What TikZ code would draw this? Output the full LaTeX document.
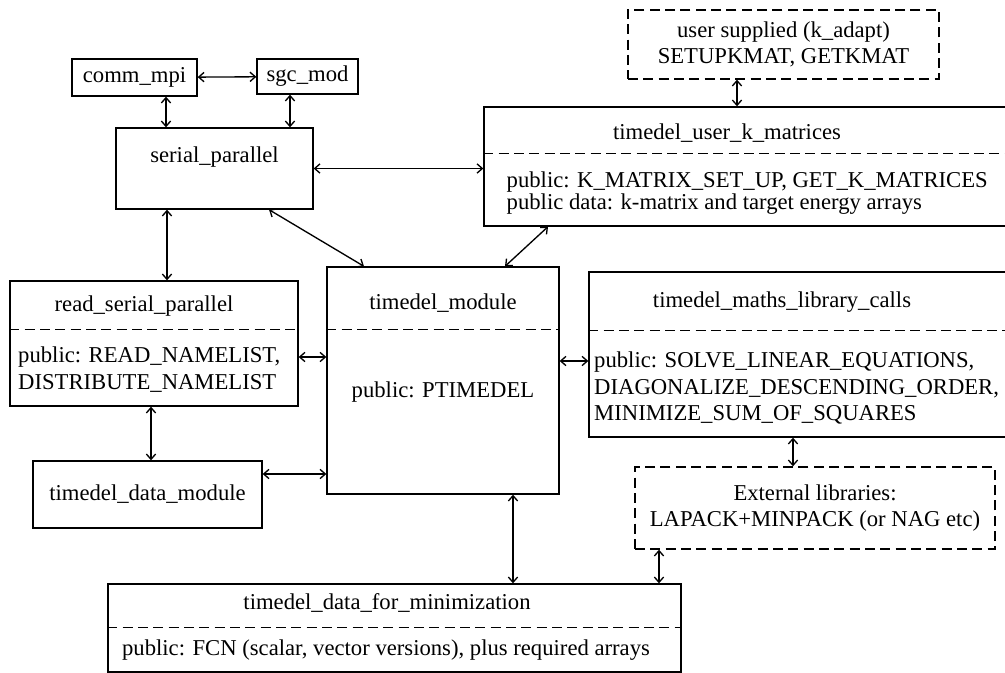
\documentclass[tikz,border=0pt]{standalone}
\usepackage{fontspec}
\setmainfont{Liberation Serif}
\usetikzlibrary{arrows.meta, positioning, calc}

\begin{document}
\begin{tikzpicture}[x=0.75pt, y=-0.75pt, >={Straight Barb[length=4pt,width=7pt]},
    font=\fontsize{17pt}{20pt}\selectfont,
    module/.style = {rectangle, draw=black, line width=1pt, inner sep=0pt},
    extlib/.style = {rectangle, draw=black, line width=1pt, dash pattern=on 7.5pt off 4pt, inner sep=0pt, align=center},
    divider/.style = {line width=1pt, dash pattern=on 7.5pt off 4pt},
    arrow/.style = {line width=1pt, <->}]
        \useasboundingbox (0,0) rectangle (1005,673);

        % Nodes
        \node (comm_mpi) [module, minimum width=93.75pt, minimum height=27.75pt] at (134.5,77.5) {comm\_mpi};
        \node (sgc_mod) [module, minimum width=75.75pt, minimum height=26.25pt] at (307.5,76.5) {sgc\_mod};
        \node (serial_parallel) [module, minimum width=147.75pt, minimum height=60.75pt] at (214.5,168.5) {};
        \node (sp_title) at (214.5,157) {serial\_parallel};

        \node (user_supplied) [extlib, minimum width=233.25pt, minimum height=51.75pt] at (783.5,44.5) {user supplied (k\_adapt)\\SETUPKMAT, GETKMAT};
        \node (k_matrices) [module, minimum width=394.5pt, minimum height=89.25pt] at (747,166.5) {};
        \node (km_title) at (727,133) {timedel\_user\_k\_matrices};
        \node (km_body) [align=left, anchor=west] at (502,193) {public: K\_MATRIX\_SET\_UP, GET\_K\_MATRICES\\[-3pt]public data: k-matrix and target energy arrays};

        \node (read_serial_parallel) [module, minimum width=216pt, minimum height=93.75pt] at (154,343.5) {};
        \node (rsp_title) at (144,306) {read\_serial\_parallel};
        \node (rsp_body) [align=left, anchor=west] at (13.5,369.5) {public: READ\_NAMELIST,\\DISTRIBUTE\_NAMELIST};

        \node (timedel_module) [module, minimum width=174pt, minimum height=170.25pt] at (443,380.5) {};
        \node (tm_title) at (443,303) {timedel\_module};
        \node (tm_body) at (443,392) {public: PTIMEDEL};

        \node (timedel_data_module) [module, minimum width=171.75pt, minimum height=50.25pt] at (147.5,494.5) {timedel\_data\_module};

        \node (maths_library_calls) [module, minimum width=315.75pt, minimum height=123.75pt] at (799.5,354.5) {};
        \node (mlc_title) at (782,302) {timedel\_maths\_library\_calls};
        \node (mlc_body) [align=left, anchor=west] at (589.5,388) {public: SOLVE\_LINEAR\_EQUATIONS,\\DIAGONALIZE\_DESCENDING\_ORDER,\\MINIMIZE\_SUM\_OF\_SQUARES};

        \node (external_libs) [extlib, minimum width=270pt, minimum height=61.5pt] at (815,508) {External libraries:\\LAPACK+MINPACK (or NAG etc)};

        \node (data_for_min) [module, minimum width=429.75pt, minimum height=66pt] at (394.5,628) {};
        \node (dfm_title) at (387,603) {timedel\_data\_for\_minimization};
        \node (dfm_body) at (386,650) {public: FCN (scalar, vector versions), plus required arrays};

        % Dividers
        \draw [divider] ($(k_matrices.north west)+(0,47)$) -- ($(k_matrices.north east)+(0,47)$);
        \draw [divider] ($(read_serial_parallel.north west)+(0,49)$) -- ($(read_serial_parallel.north east)+(0,49)$);
        \draw [divider] ($(timedel_module.north west)+(0,63)$) -- ($(timedel_module.north east)+(0,63)$);
        \draw [divider] ($(maths_library_calls.north west)+(0,59)$) -- ($(maths_library_calls.north east)+(0,59)$);
        \draw [divider] ($(data_for_min.north west)+(0,44)$) -- ($(data_for_min.north east)+(0,44)$);

        % Arrows
        \draw [arrow] (comm_mpi) -- (sgc_mod);
        \draw [arrow] ($(comm_mpi.south)+(31.5,0)$) -- ($(serial_parallel.north)+(-48.5,0)$);
        \draw [arrow] ($(sgc_mod.south)+(-17.5,0)$) -- ($(serial_parallel.north)+(75.5,0)$);
        \draw [arrow] (serial_parallel) -- (k_matrices.west |- serial_parallel);
        \draw [arrow] ($(user_supplied.south)+(-46.5,0)$) -- ($(k_matrices.north)+(-10,0)$);
        \draw [arrow] ($(serial_parallel.south)+(54.5,0)$) -- ($(timedel_module.north)+(-79,0)$);
        \draw [arrow] ($(timedel_module.north)+(62,0)$) -- ($(k_matrices.south)+(-199,0)$);
        \draw [arrow] ($(serial_parallel.south)+(-47.5,0)$) -- ($(read_serial_parallel.north)+(13,0)$);
        \draw [arrow] ($(read_serial_parallel.east)+(0,13.5)$) -- ($(timedel_module.west)+(0,-23.5)$);
        \draw [arrow] ($(read_serial_parallel.south)+(-3,0)$) -- ($(timedel_data_module.north)+(3.5,0)$);
        \draw [arrow] ($(timedel_data_module.east)+(0,-20.5)$) -- ($(timedel_module.west)+(0,93.5)$);
        \draw [arrow] ($(timedel_module.east)+(0,-19.5)$) -- ($(maths_library_calls.west)+(0,6.5)$);
        \draw [arrow] ($(maths_library_calls.south)+(-6.5,0)$) -- ($(external_libs.north)+(-22,0)$);
        \draw [arrow] ($(timedel_module.south)+(70,0)$) -- ($(data_for_min.north)+(118.5,0)$);
        \draw [arrow] ($(external_libs.south)+(-156,0)$) -- ($(data_for_min.north)+(264.5,0)$);
\end{tikzpicture}
\end{document}
